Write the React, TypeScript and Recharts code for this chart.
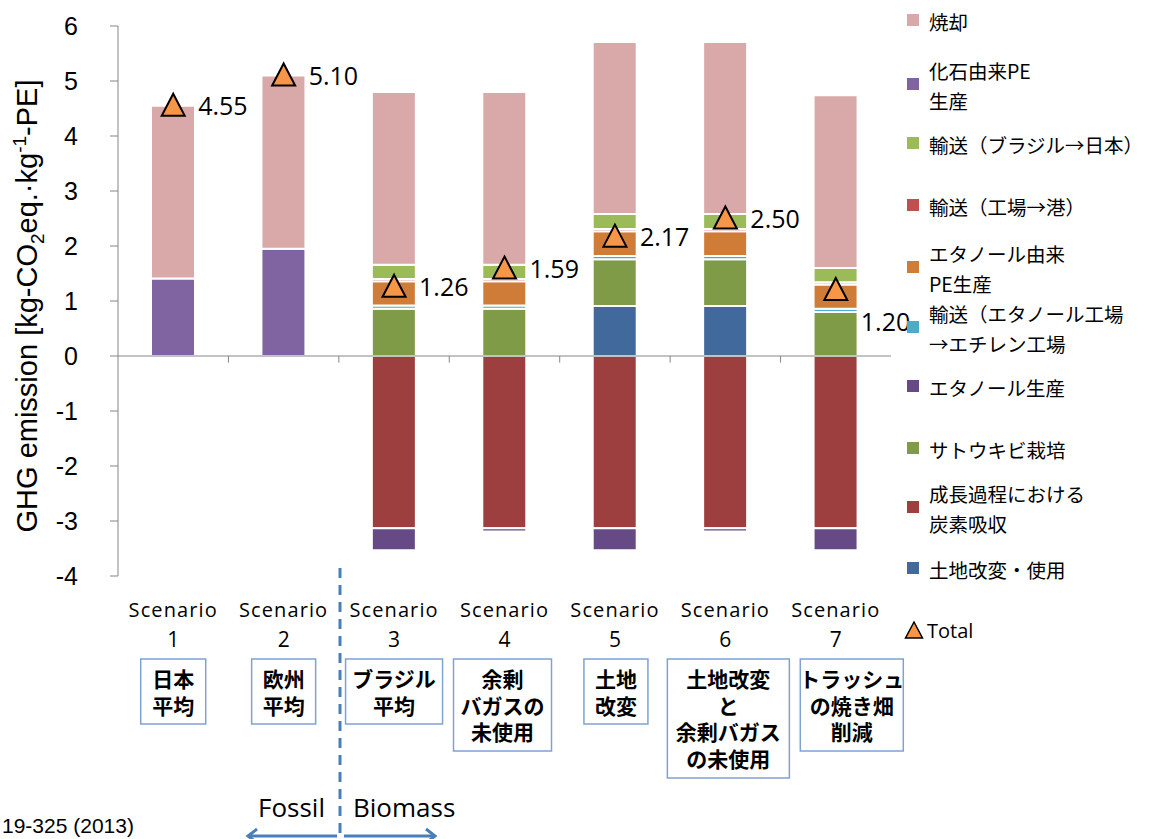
import React from 'react';
import { ComposedChart, Bar, Line, XAxis, YAxis, ReferenceLine } from 'recharts';

// ---------- data ----------
const categories = ['Scenario 1', 'Scenario 2', 'Scenario 3', 'Scenario 4', 'Scenario 5', 'Scenario 6', 'Scenario 7'];
const scenarioNumbers = ['1', '2', '3', '4', '5', '6', '7'];
const scenarioDescriptions = [
  ['日本', '平均'],
  ['欧州', '平均'],
  ['ブラジル', '平均'],
  ['余剰', 'バガスの', '未使用'],
  ['土地', '改変'],
  ['土地改変', 'と', '余剰バガス', 'の未使用'],
  ['トラッシュ', 'の焼き畑', '削減'],
];

const landUse = [0, 0, 0, 0, 0.91, 0.91, 0];
const carbonAbsorption = [0, 0, -3.13, -3.13, -3.13, -3.13, -3.13];
const sugarcane = [0, 0, 0.86, 0.86, 0.85, 0.85, 0.8];
const ethanolProduction = [0, 0, -0.4, -0.06, -0.4, -0.06, -0.4];
const transportEthanolPlant = [0, 0, 0.06, 0.06, 0.06, 0.06, 0.06];
const ethanolPE = [0, 0, 0.44, 0.44, 0.45, 0.45, 0.44];
const transportFactoryPort = [0, 0, 0.04, 0.04, 0.04, 0.04, 0.04];
const transportBrazilJapan = [0, 0, 0.26, 0.26, 0.27, 0.27, 0.26];
const fossilPE = [1.41, 1.95, 0, 0, 0, 0, 0];
const incineration = [3.14, 3.15, 3.14, 3.14, 3.13, 3.13, 3.14];
const totals = [4.55, 5.1, 1.26, 1.59, 2.17, 2.5, 1.2];

const yTicks = [-4, -3, -2, -1, 0, 1, 2, 3, 4, 5, 6];

// stacking order (bottom -> top)
const series = [
  { key: 'landUse', label: ['土地改変・使用'], color: '#41699c', values: landUse },
  { key: 'carbonAbsorption', label: ['成長過程における', '炭素吸収'], color: '#9d3f3e', values: carbonAbsorption },
  { key: 'sugarcane', label: ['サトウキビ栽培'], color: '#7f9b48', values: sugarcane },
  { key: 'ethanolProduction', label: ['エタノール生産'], color: '#664a86', values: ethanolProduction },
  { key: 'transportEthanolPlant', label: ['輸送（エタノール工場', '→エチレン工場'], color: '#4bacc6', values: transportEthanolPlant },
  { key: 'ethanolPE', label: ['エタノール由来', 'PE生産'], color: '#d07c39', values: ethanolPE },
  { key: 'transportFactoryPort', label: ['輸送（工場→港）'], color: '#c0504d', values: transportFactoryPort },
  { key: 'transportBrazilJapan', label: ['輸送（ブラジル→日本）'], color: '#9bbb59', values: transportBrazilJapan },
  { key: 'fossilPE', label: ['化石由来PE', '生産'], color: '#8064a2', values: fossilPE },
  { key: 'incineration', label: ['焼却'], color: '#d9a9a9', values: incineration },
];

const rows = categories.map((cat, i) => {
  const r: Record<string, number | string> = { cat, total: totals[i] };
  series.forEach((s) => {
    r[s.key] = s.values[i];
  });
  return r;
});

// ---------- layout constants ----------
const W = 1150;
const H = 839;
const MARGIN = { top: 26, right: 259, bottom: 0, left: 0 };
const Y_AXIS_W = 118;
const X_AXIS_H = 263;
const BOX_W = [65, 64, 97, 98, 64, 122, 103];
const BOX_DX = [0, 0, 0, -2, 1, 3, 16];
const LEGEND_CENTERS = [22, 86, 145, 207, 269, 329, 388, 450, 509, 570];
const AXIS_GRAY = '#868686';
const BLUE = '#4a7ebb';
const CJK = '"Noto Sans CJK JP", "Noto Sans", sans-serif';
const LATIN = '"Open Sans", "Noto Sans", sans-serif';
const ARIAL = '"Liberation Sans", Arial, sans-serif';

function ScenarioTick(props: any) {
  const { x, y, payload } = props;
  const i = categories.indexOf(payload.value);
  const lines = scenarioDescriptions[i] || [];
  const w = BOX_W[i];
  const cx = x + BOX_DX[i];
  const boxTop = y + 83;
  const boxH = 11 + lines.length * 27;
  return (
    <g>
      <text x={x} y={y + 41} textAnchor="middle" fontFamily={LATIN} fontSize={20} letterSpacing={1.1} fill="#000">
        Scenario
      </text>
      <text x={x} y={y + 71} textAnchor="middle" fontFamily={LATIN} fontSize={21} fill="#000">
        {scenarioNumbers[i]}
      </text>
      <rect x={cx - w / 2} y={boxTop} width={w} height={boxH} fill="#fff" stroke="#7fa2d2" strokeWidth={1.5} />
      <text x={cx} y={boxTop + 28} textAnchor="middle" fontFamily={CJK} fontWeight={700} fontSize={21} fill="#000">
        {lines.map((t, k) => (
          <tspan key={k} x={cx} dy={k === 0 ? 0 : 26.5}>
            {t}
          </tspan>
        ))}
      </text>
    </g>
  );
}

function Triangle(props: any) {
  const { cx, cy } = props;
  if (cx == null || cy == null) return null;
  return (
    <path
      d={`M${cx},${cy - 12} L${cx + 11.5},${cy + 10} L${cx - 11.5},${cy + 10} Z`}
      fill="#f79646"
      stroke="#000"
      strokeWidth={2}
      strokeLinejoin="miter"
    />
  );
}

function TotalLabel(props: any) {
  const { x, y, value, index } = props;
  const dy = index === 6 ? 32 : 0;
  return (
    <text x={x + 25} y={y + dy} dy="0.36em" fontFamily={LATIN} fontSize={25} fill="#000">
      {Number(value).toFixed(2)}
    </text>
  );
}

function LegendBlock() {
  const items = [...series].reverse();
  return (
    <div style={{ position: 'absolute', left: 0, top: 0, width: W, height: H, pointerEvents: 'none' }}>
      {items.map((s, k) => {
        const c = LEGEND_CENTERS[k];
        const lh = 30;
        const h = s.label.length * lh;
        return (
          <div key={s.key} style={{ position: 'absolute', left: 907, top: c - h / 2, height: h, display: 'flex', alignItems: 'center' }}>
            <div style={{ width: 12, height: 12, background: s.color, marginRight: 10, marginTop: -4 }} />
            <div style={{ fontFamily: CJK, fontSize: 19.5, lineHeight: `${lh}px`, color: '#000', whiteSpace: 'nowrap' }}>
              {s.label.map((t, j) => (
                <div key={j}>{t}</div>
              ))}
            </div>
          </div>
        );
      })}
      <div style={{ position: 'absolute', left: 904, top: 615, height: 30, display: 'flex', alignItems: 'center' }}>
        <svg width={20} height={20} style={{ marginRight: 3 }}>
          <path d="M10,2 L18.5,18 L1.5,18 Z" fill="#f79646" stroke="#000" strokeWidth={1.5} />
        </svg>
        <span style={{ fontFamily: LATIN, fontSize: 20, color: '#000' }}>Total</span>
      </div>
    </div>
  );
}

function Decorations() {
  return (
    <svg width={W} height={H} style={{ position: 'absolute', left: 0, top: 0, pointerEvents: 'none' }}>
      <text
        x={37}
        y={306}
        transform="rotate(-90 37 306)"
        textAnchor="middle"
        fontFamily={ARIAL}
        fontSize={29}
        fill="#000"
      >
        GHG emission [kg-CO
        <tspan fontSize={19} dy={7}>2</tspan>
        <tspan dy={-7}>eq.·kg</tspan>
        <tspan fontSize={19} dy={-11}>-1</tspan>
        <tspan dy={11}>-PE]</tspan>
      </text>
      <line x1={340} y1={568} x2={340} y2={839} stroke={BLUE} strokeWidth={3} strokeDasharray="10 7" />
      <text x={258} y={817} fontFamily={LATIN} fontSize={26} fill="#000">Fossil</text>
      <text x={353} y={817} fontFamily={LATIN} fontSize={26} fill="#000">Biomass</text>
      <line x1={337} y1={836} x2={249} y2={836} stroke={BLUE} strokeWidth={3} />
      <polyline points="257,829 248,836 257,843" fill="none" stroke={BLUE} strokeWidth={3} />
      <line x1={344} y1={836} x2={434} y2={836} stroke={BLUE} strokeWidth={3} />
      <polyline points="426,829 435,836 426,843" fill="none" stroke={BLUE} strokeWidth={3} />
      <text x={2} y={833} fontFamily={ARIAL} fontSize={21} fill="#000">19-325 (2013)</text>
    </svg>
  );
}

export default function App() {
  return (
    <div style={{ position: 'absolute', left: 0, top: 0, width: W, height: H, background: '#fff', overflow: 'hidden' }}>
      <ComposedChart width={W} height={H} data={rows} margin={MARGIN} stackOffset="sign" barSize={44}>
        <XAxis
          dataKey="cat"
          axisLine={false}
          tickLine={false}
          tickSize={0}
          tickMargin={0}
          height={X_AXIS_H}
          interval={0}
          tick={<ScenarioTick />}
        />
        <YAxis
          type="number"
          domain={[-4, 6]}
          ticks={yTicks}
          width={Y_AXIS_W}
          stroke={AXIS_GRAY}
          tickSize={8}
          tickMargin={32}
          tick={{ fontFamily: ARIAL, fontSize: 25, fill: '#000' }}
          axisLine={{ stroke: AXIS_GRAY, strokeWidth: 1 }}
          tickLine={{ stroke: AXIS_GRAY, strokeWidth: 1 }}
          allowDataOverflow
        />
        <ReferenceLine y={0} stroke={AXIS_GRAY} strokeWidth={1} />
        {categories.slice(0, 6).map((c) => (
          <ReferenceLine
            key={c}
            segment={[{ x: c, y: 0 }, { x: c, y: -0.12 }]}
            position="end"
            stroke={AXIS_GRAY}
            strokeWidth={1}
          />
        ))}
        {series.map((s) => (
          <Bar
            key={s.key}
            dataKey={s.key}
            stackId="a"
            fill={s.color}
            stroke="#ffffff"
            strokeWidth={2}
            isAnimationActive={false}
          />
        ))}
        <Line
          dataKey="total"
          stroke="none"
          dot={(p: any) => <Triangle key={p.index} {...p} />}
          activeDot={false}
          label={(p: any) => <TotalLabel key={p.index} {...p} />}
          isAnimationActive={false}
        />
      </ComposedChart>
      <Decorations />
      <LegendBlock />
    </div>
  );
}
